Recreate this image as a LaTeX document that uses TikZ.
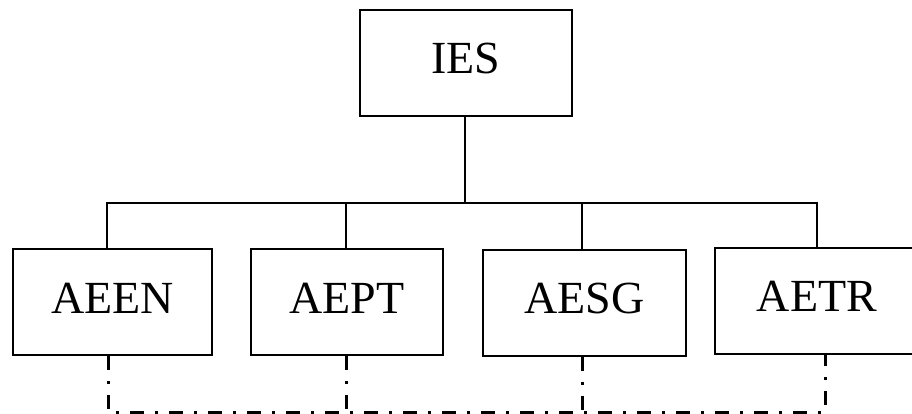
\documentclass[tikz,border=0pt]{standalone}
\usepackage{fontspec}
\setmainfont{Liberation Serif}
\begin{document}
\begin{tikzpicture}[x=1pt,y=-1pt,
  box/.style={draw=black,line width=2pt,inner sep=0pt,minimum height=106pt,
    text height=22pt,text depth=0pt,
    font=\fontsize{46}{50}\selectfont},
  link/.style={draw=black,line width=2pt},
  dlink/.style={draw=black,line width=3pt,dash pattern=on 14pt off 11pt on 3pt off 11pt}]
\useasboundingbox (0,0) rectangle (912,414);
\node[box,minimum width=212pt] (ies) at (466,63) {IES};
\node[box,minimum width=199pt] (aeen) at (112.5,302) {AEEN};
\node[box,minimum width=192pt] (aept) at (347,302) {AEPT};
\node[box,minimum width=203pt] (aesg) at (584.5,302.5) {AESG};
\node[box,minimum width=204pt] (aetr) at (817,300.5) {AETR};
\coordinate (bus) at (465,203);
\coordinate (d1) at (107,203);
\coordinate (d2) at (346,203);
\coordinate (d3) at (582,203);
\coordinate (d4) at (817,203);
\draw[link] (bus |- ies.south) -- (bus);
\draw[link] (d1 |- aeen.north) -- (d1) -- (d4) -- (d4 |- aetr.north);
\draw[link] (d2) -- (d2 |- aept.north);
\draw[link] (d3) -- (d3 |- aesg.north);
\coordinate (b1) at (108,412);
\coordinate (b2) at (346,412);
\coordinate (b3) at (582,412);
\coordinate (b4) at (825,412);
\draw[dlink] (b1 |- aeen.south) -- (b1) -- (b4) -- (b4 |- aetr.south);
\draw[dlink] (b2 |- aept.south) -- (b2);
\draw[dlink] (b3 |- aesg.south) -- (b3);
\end{tikzpicture}
\end{document}
